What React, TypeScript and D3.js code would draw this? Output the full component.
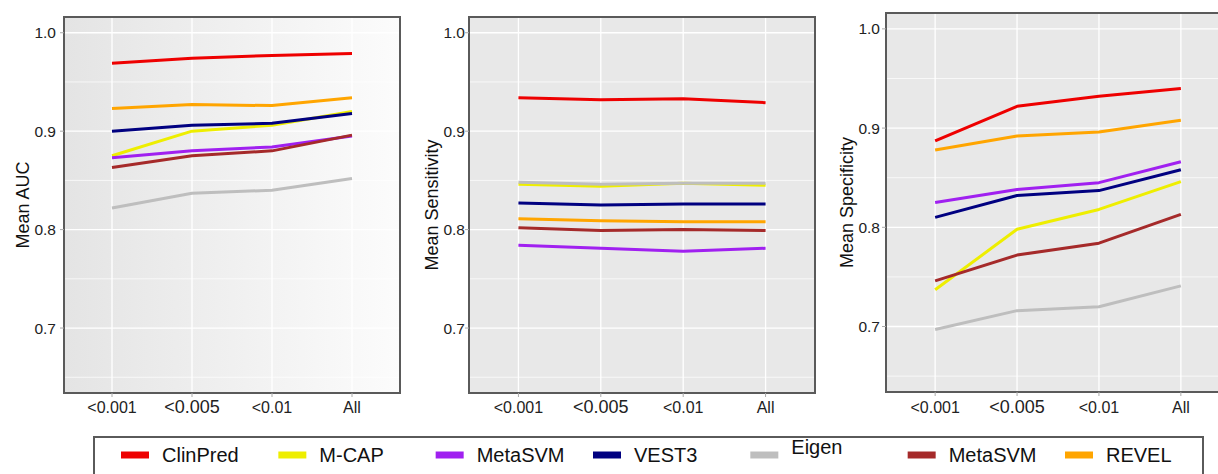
import React from 'react';
import * as d3 from 'd3';

// categories (x axis) and tools (series)
const cutoffs = ['<0.001', '<0.005', '<0.01', 'All'];
const tools = ['ClinPred', 'M-CAP', 'MetaSVM', 'VEST3', 'Eigen', 'MetaSVM', 'REVEL'];
const toolColors = ['#ee0000', '#eeee00', '#a020f0', '#000080', '#bebebe', '#a52a2a', '#ffa500'];

// mean values per tool, one row per tool in the order above
const aucValues = [
  [0.969, 0.974, 0.977, 0.979],
  [0.875, 0.900, 0.906, 0.920],
  [0.873, 0.880, 0.884, 0.895],
  [0.900, 0.906, 0.908, 0.918],
  [0.822, 0.837, 0.840, 0.852],
  [0.863, 0.875, 0.880, 0.896],
  [0.923, 0.927, 0.926, 0.934],
];
const sensitivityValues = [
  [0.934, 0.932, 0.933, 0.929],
  [0.846, 0.844, 0.847, 0.845],
  [0.784, 0.781, 0.778, 0.781],
  [0.827, 0.825, 0.826, 0.826],
  [0.848, 0.846, 0.847, 0.847],
  [0.802, 0.799, 0.800, 0.799],
  [0.811, 0.809, 0.808, 0.808],
];
const specificityValues = [
  [0.887, 0.922, 0.932, 0.940],
  [0.737, 0.798, 0.818, 0.846],
  [0.825, 0.838, 0.845, 0.866],
  [0.810, 0.832, 0.837, 0.858],
  [0.697, 0.716, 0.720, 0.741],
  [0.746, 0.772, 0.784, 0.813],
  [0.878, 0.892, 0.896, 0.908],
];
const majorTicks = [0.7, 0.8, 0.9, 1.0];
const minorTicks = [0.65, 0.75, 0.85, 0.95];
const yDomain = [0.634, 1.016];

const W = 1218;
const H = 474;
const FONT = '"Liberation Sans", Arial, sans-serif';

// panel frames (layout only)
const panels = [
  { title: 'Mean AUC', values: aucValues, x0: 64, x1: 400, y0: 17, y1: 393, titleX: 29, labelX: 56, gradient: true },
  { title: 'Mean Sensitivity', values: sensitivityValues, x0: 469, x1: 815, y0: 17, y1: 393, titleX: 438, labelX: 465, gradient: false },
  { title: 'Mean Specificity', values: specificityValues, x0: 886, x1: 1230, y0: 13, y1: 392, titleX: 853, labelX: 880, gradient: false },
];

function Panel({ p, idx }: { p: typeof panels[number]; idx: number }) {
  const x = d3.scalePoint<string>().domain(cutoffs).range([p.x0, p.x1]).padding(0.6);
  const y = d3.scaleLinear().domain(yDomain).range([p.y1, p.y0]);
  const line = d3.line<number>()
    .x((_, i) => x(cutoffs[i]) as number)
    .y(d => y(d));
  const cy = (p.y0 + p.y1) / 2;

  return (
    <g>
      {p.gradient && (
        <defs>
          <linearGradient id={`bg-${idx}`} x1="0%" x2="100%" y1="0%" y2="0%">
            <stop offset="0%" stopColor="#e4e4e4" />
            <stop offset="100%" stopColor="#fcfcfc" />
          </linearGradient>
        </defs>
      )}
      <rect x={p.x0} y={p.y0} width={p.x1 - p.x0} height={p.y1 - p.y0}
        fill={p.gradient ? `url(#bg-${idx})` : '#e8e8e8'} />
      {minorTicks.map(t => (
        <line key={`mi${t}`} x1={p.x0} x2={p.x1} y1={y(t)} y2={y(t)} stroke="#fff" strokeWidth={0.7} />
      ))}
      {majorTicks.map(t => (
        <line key={`ma${t}`} x1={p.x0} x2={p.x1} y1={y(t)} y2={y(t)} stroke="#fff" strokeWidth={1.3} />
      ))}
      {cutoffs.map(c => (
        <line key={c} x1={x(c)} x2={x(c)} y1={p.y0} y2={p.y1} stroke="#fff" strokeWidth={1.3} />
      ))}
      {p.values.map((vals, i) => (
        <path key={i} d={line(vals) as string} fill="none" stroke={toolColors[i]}
          strokeWidth={3} strokeLinejoin="round" />
      ))}
      <rect x={p.x0} y={p.y0} width={p.x1 - p.x0} height={p.y1 - p.y0}
        fill="none" stroke="#5a5a5a" strokeWidth={2} />
      {/* axis ticks */}
      {majorTicks.map(t => (
        <g key={`yt${t}`}>
          <line x1={p.x0 - 4} x2={p.x0} y1={y(t)} y2={y(t)} stroke="#aaa" strokeWidth={1} />
          <text x={p.labelX} y={y(t) + 5.5} textAnchor="end" fontSize={15.5} fill="#222"
            fontFamily={FONT}>{t.toFixed(1)}</text>
        </g>
      ))}
      {cutoffs.map(c => (
        <g key={`xt${c}`}>
          <line x1={x(c)} x2={x(c)} y1={p.y1} y2={p.y1 + 4} stroke="#aaa" strokeWidth={1} />
          <text x={x(c)} y={413} textAnchor="middle" fontSize={c === '<0.005' ? 18 : 16} fill="#222"
            fontFamily={FONT}>{c}</text>
        </g>
      ))}
      <text transform={`translate(${p.titleX},${cy}) rotate(-90)`} textAnchor="middle"
        fontSize={18} fill="#111" fontFamily={FONT}>{p.title}</text>
    </g>
  );
}

function Legend() {
  const left = 94;
  const right = 1203;
  const top = 437;
  const pos = d3.scaleLinear().domain([0, tools.length - 1]).range([121, 1065]);
  return (
    <g>
      <rect x={left} y={top} width={right - left} height={60} fill="#fff" stroke="#5a5a5a" strokeWidth={2} />
      {tools.map((t, i) => (
        <g key={i} transform={`translate(${pos(i)},455)`}>
          <line x1={0} x2={28} y1={0} y2={0} stroke={toolColors[i]} strokeWidth={7} />
          <text x={41} y={t === 'Eigen' ? -1 : 7} fontSize={20} fill="#111" fontFamily={FONT}>{t}</text>
        </g>
      ))}
    </g>
  );
}

export default function App() {
  return (
    <svg width={W} height={H} viewBox={`0 0 ${W} ${H}`}
      style={{ position: 'absolute', left: 0, top: 0, background: '#fff', overflow: 'hidden' }}>
      <rect x={0} y={0} width={W} height={H} fill="#fff" />
      {panels.map((p, i) => <Panel key={i} p={p} idx={i} />)}
      <Legend />
    </svg>
  );
}
